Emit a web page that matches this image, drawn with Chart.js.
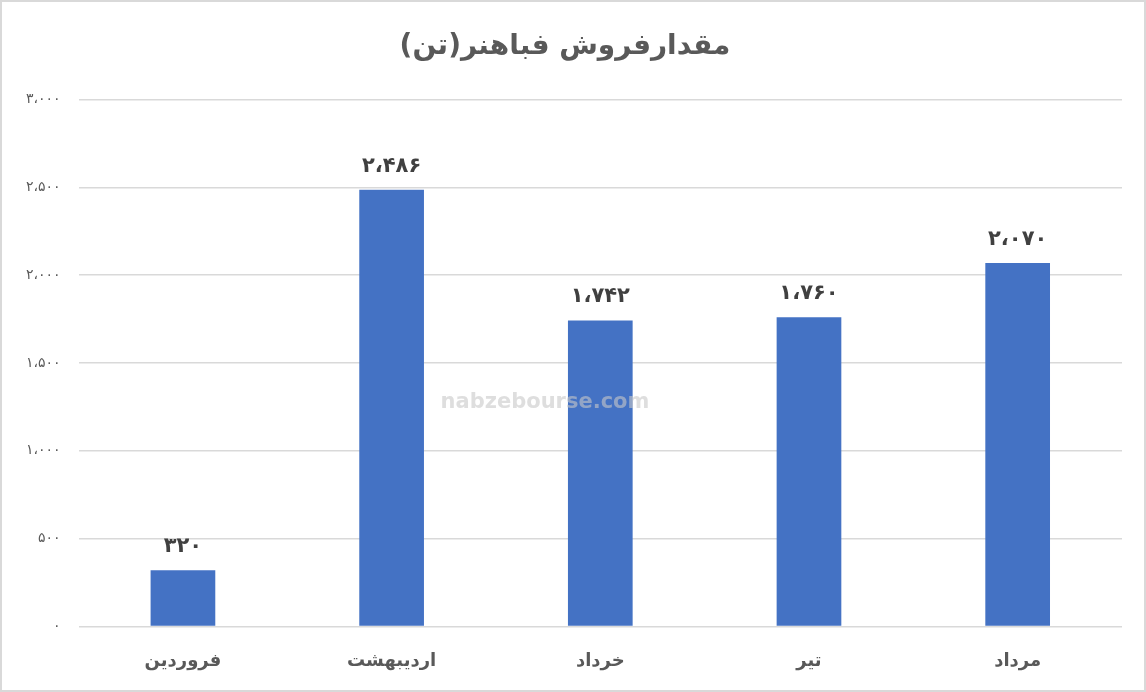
<!DOCTYPE html>
<html>
<head>
<meta charset="utf-8">
<script src="https://cdn.jsdelivr.net/npm/chart.js@4"></script>
<style>
  html, body { margin: 0; padding: 0; background: #fff; }
  .frame { width: 1142px; height: 688px; border: 2px solid #d9d9d9; position: relative; }
  canvas { display: block; }
</style>
</head>
<body>
<div class="frame"><canvas id="barChart" width="1142" height="688"></canvas></div>
<script>
const chartTitle = 'مقدارفروش فباهنر(تن)';
const months = ['فروردین', 'اردیبهشت', 'خرداد', 'تیر', 'مرداد'];
const salesTons = [320, 2486, 1742, 1760, 2070];
const yTicks = [0, 500, 1000, 1500, 2000, 2500, 3000];

// Persian digits with the Arabic comma as thousands separator
function toPersian(n) {
    const digits = '۰۱۲۳۴۵۶۷۸۹';
    const s = n.toString().replace(/\B(?=(\d{3})+(?!\d))/g, '،');
    return s.replace(/\d/g, d => digits[d]);
}

const fontFa = '"DejaVu Sans", sans-serif';

const barLabels = {
    id: 'barLabels',
    afterDatasetsDraw(chart) {
        const ctx = chart.ctx;
        const meta = chart.getDatasetMeta(0);
        ctx.save();
        ctx.fillStyle = '#404040';
        ctx.font = 'bold 21px ' + fontFa;
        ctx.textAlign = 'center';
        ctx.textBaseline = 'bottom';
        meta.data.forEach((bar, i) => {
            ctx.fillText(toPersian(salesTons[i]), bar.x, bar.y - 13);
        });
        ctx.restore();
    }
};

// faint site watermark over the plot
const watermark = {
    id: 'watermark',
    afterDatasetsDraw(chart) {
        const ctx = chart.ctx;
        ctx.save();
        ctx.fillStyle = 'rgba(200,200,200,0.6)';
        ctx.font = 'bold 21px "DejaVu Sans", sans-serif';
        ctx.textAlign = 'center';
        ctx.textBaseline = 'middle';
        ctx.fillText('nabzebourse.com', 543, 401);
        ctx.restore();
    }
};

new Chart(document.getElementById('barChart'), {
    type: 'bar',
    data: {
        labels: months,
        datasets: [{
            data: salesTons,
            backgroundColor: '#4472c4',
            categoryPercentage: 1,
            barPercentage: 0.31
        }]
    },
    options: {
        responsive: false,
        animation: false,
        layout: { padding: { left: 6, right: 22, top: 12, bottom: 2 } },
        plugins: {
            legend: { display: false },
            tooltip: { enabled: false },
            title: {
                display: true,
                text: chartTitle,
                color: '#595959',
                font: { family: fontFa, size: 28, weight: 'bold' },
                padding: { top: 16, bottom: 36 }
            }
        },
        scales: {
            x: {
                grid: { display: false },
                border: { display: false },
                ticks: {
                    color: '#595959',
                    font: { family: fontFa, size: 18, weight: 'bold' },
                    padding: 16
                }
            },
            y: {
                min: 0,
                max: 3000,
                afterBuildTicks(axis) {
                    axis.ticks = yTicks.map(v => ({ value: v }));
                },
                grid: { color: '#d9d9d9', lineWidth: 1.5, drawTicks: false },
                border: { display: false },
                ticks: {
                    color: '#595959',
                    font: { family: fontFa, size: 14 },
                    padding: 18,
                    callback: v => toPersian(v)
                }
            }
        }
    },
    plugins: [barLabels, watermark]
});
</script>
</body>
</html>
